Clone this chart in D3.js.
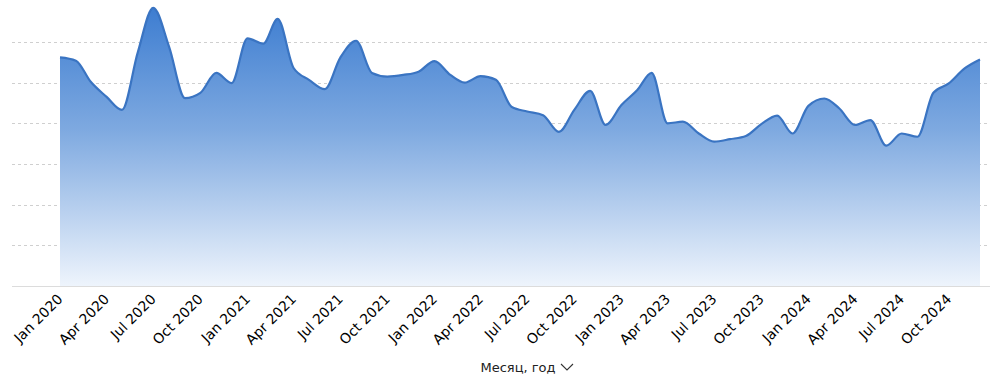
<!DOCTYPE html>
<html>
<head>
<meta charset="utf-8">
<script src="https://cdn.jsdelivr.net/npm/d3@7"></script>
<style>
  body { margin: 0; background: #fff; }
  svg { display: block; font-family: "DejaVu Sans", Verdana, sans-serif; }
</style>
</head>
<body>
<div id="chart"></div>
<script>
// monthly series, Jan 2020 .. Dec 2024
var months = [];
for (var yr = 2020; yr <= 2024; yr++) {
  for (var m = 0; m < 12; m++) months.push(new Date(yr, m, 1));
}
var values = [
  56.2, 55.4, 50.2, 46.5, 43.3, 57.5, 68.4, 58.8, 46.2, 47.5, 52.4, 49.9,
  60.9, 59.6, 65.7, 53.6, 50.7, 48.4, 56.1, 60.3, 52.4, 51.5, 51.9, 52.7,
  55.3, 51.9, 50.0, 51.6, 50.7, 44.0, 42.9, 42.0, 37.9, 43.3, 48.0, 39.6,
  44.5, 48.2, 52.4, 40.0, 40.4, 37.5, 35.5, 36.1, 36.9, 39.8, 41.9, 37.5,
  44.3, 46.1, 43.7, 39.6, 40.8, 34.5, 37.5, 36.7, 47.5, 49.8, 53.5, 55.7
];
var gridValues = [10, 20, 30, 40, 50, 60];
var axisTitle = "Месяц, год";

var width = 990, height = 379;
var svg = d3.select("#chart").append("svg")
  .attr("width", width).attr("height", height);

var x = d3.scaleTime()
  .domain([months[0], months[months.length - 1]])
  .range([60, 980]);
var y = d3.scaleLinear().domain([0, 70]).range([286, 1.3]);

var defs = svg.append("defs");
var grad = defs.append("linearGradient")
  .attr("id", "fillGrad")
  .attr("gradientUnits", "userSpaceOnUse")
  .attr("x1", 0).attr("x2", 0)
  .attr("y1", y(70)).attr("y2", y(0));
grad.append("stop").attr("offset", "0%").attr("stop-color", "#3a7bd0");
grad.append("stop").attr("offset", "45%").attr("stop-color", "#7ea9e0");
grad.append("stop").attr("offset", "100%").attr("stop-color", "#eef4fc");

// grid lines
svg.append("g").selectAll("line")
  .data(gridValues).enter().append("line")
  .attr("x1", 12).attr("x2", 990)
  .attr("y1", function(d) { return Math.round(y(d)) + 0.5; })
  .attr("y2", function(d) { return Math.round(y(d)) + 0.5; })
  .attr("stroke", "#cfcfcf")
  .attr("stroke-dasharray", "3,3");

var data = months.map(function(d, i) { return { date: d, value: values[i] }; });

var area = d3.area()
  .x(function(d) { return x(d.date); })
  .y0(y(0))
  .y1(function(d) { return y(d.value); })
  .curve(d3.curveMonotoneX);

var line = d3.line()
  .x(function(d) { return x(d.date); })
  .y(function(d) { return y(d.value); })
  .curve(d3.curveMonotoneX);

svg.append("path").datum(data)
  .attr("d", area)
  .attr("fill", "url(#fillGrad)");

svg.append("path").datum(data)
  .attr("d", line)
  .attr("fill", "none")
  .attr("stroke", "#3a74c2")
  .attr("stroke-width", 2.2);

// baseline
svg.append("line")
  .attr("x1", 12).attr("x2", 990)
  .attr("y1", y(0) + 0.5).attr("y2", y(0) + 0.5)
  .attr("stroke", "#dcdcdc");

// x axis, quarterly ticks
var xAxis = d3.axisBottom(x)
  .ticks(d3.timeMonth.every(3))
  .tickSize(0)
  .tickFormat(d3.timeFormat("%b %Y"));

var gx = svg.append("g")
  .attr("transform", "translate(0," + y(0) + ")")
  .call(xAxis);
gx.select(".domain").remove();
gx.selectAll("text")
  .attr("font-family", "DejaVu Sans, Verdana, sans-serif")
  .attr("font-size", 14)
  .attr("fill", "#000")
  .attr("text-anchor", "end")
  .attr("dy", null).attr("y", 0)
  .attr("transform", "translate(3,14) rotate(-45)");

// axis title with chevron
var title = svg.append("g").attr("transform", "translate(518,372)");
title.append("text")
  .attr("text-anchor", "middle")
  .attr("font-size", 13)
  .attr("fill", "#222")
  .text(axisTitle);
title.append("path")
  .attr("d", "M43,-8 L49,-2 L55,-8")
  .attr("fill", "none")
  .attr("stroke", "#333")
  .attr("stroke-width", 1.1);
</script>
</body>
</html>
